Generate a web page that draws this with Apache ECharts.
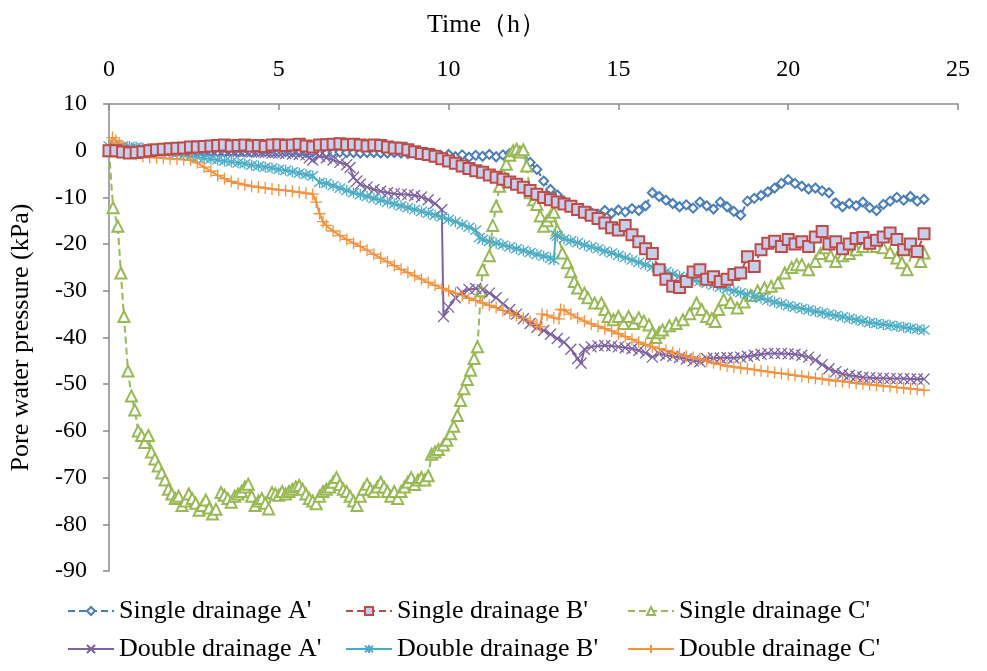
<!DOCTYPE html>
<html>
<head>
<meta charset="utf-8">
<script src="https://cdn.jsdelivr.net/npm/echarts@6/dist/echarts.min.js"></script>
<style>
html,body{margin:0;padding:0;background:#fff;}
#chart{width:987px;height:671px;}
</style>
</head>
<body>
<div id="chart"></div>
<script>
// ---- data: [time (h), pore water pressure (kPa)] ----
var seriesNames = ["Single drainage A'", "Single drainage B'", "Single drainage C'",
                   "Double drainage A'", "Double drainage B'", "Double drainage C'"];

var singleA = [[0,0],[0.2,0.1],[0.4,0.2],[0.6,0.1],[0.8,0],[1,0],[1.2,-0.1],[1.4,0],[1.6,0],[1.8,-0.1],[2,-0.1],[2.2,0],[2.4,-0.1],[2.6,-0.2],[2.8,-0.1],[3,-0.1],[3.2,-0.2],[3.4,-0.2],[3.6,-0.1],[3.8,-0.2],[4,-0.2],[4.2,-0.3],[4.4,-0.2],[4.6,-0.2],[4.8,-0.3],[5,-0.3],[5.2,-0.2],[5.4,-0.3],[5.6,-0.3],[5.8,-0.4],[6,-0.3],[6.2,-0.3],[6.4,-0.4],[6.6,-0.4],[6.8,-0.3],[7,-0.4],[7.2,-0.4],[7.4,-0.5],[7.6,-0.4],[7.8,-0.4],[8,-0.5],[8.2,-0.5],[8.4,-0.4],[8.6,-0.5],[8.8,-0.6],[9,-0.5],[9.2,-0.6],[9.4,-0.6],[9.6,-0.8],[9.8,-1.2],[10,-0.8],[10.2,-1.3],[10.4,-0.9],[10.6,-1.4],[10.8,-1],[11,-1.2],[11.2,-0.8],[11.4,-1.3],[11.6,-0.9],[11.8,-0.6],[12,-0.3],[12.2,-0.5],[12.4,-2.5],[12.6,-4],[12.8,-6.5],[13,-8.3],[13.2,-9.5],[13.4,-10.8],[13.6,-11.8],[13.8,-12.6],[14,-13.5],[14.2,-13.2],[14.4,-13.6],[14.6,-12.8],[14.8,-13.4],[15,-12.7],[15.2,-13.1],[15.4,-12.4],[15.6,-12.8],[15.8,-11.8],[16,-9],[16.2,-9.8],[16.4,-10.6],[16.6,-11.3],[16.8,-12],[17,-11.6],[17.2,-12.3],[17.4,-11],[17.6,-11.8],[17.8,-12.5],[18,-11],[18.2,-12],[18.4,-13],[18.6,-13.8],[18.8,-10.8],[19,-10.2],[19.2,-9.6],[19.4,-8.8],[19.6,-8],[19.8,-7],[20,-6.2],[20.2,-7],[20.4,-7.6],[20.6,-8.2],[20.8,-8],[21,-8.6],[21.2,-9],[21.4,-11.2],[21.6,-12],[21.8,-11.3],[22,-11.8],[22.2,-11],[22.4,-12.2],[22.6,-12.8],[22.8,-11.5],[23,-10.8],[23.2,-10],[23.4,-10.6],[23.6,-9.8],[23.8,-10.8],[24,-10.4]];

var singleB = [[0,0],[0.2,0],[0.4,-0.3],[0.6,-0.5],[0.8,-0.4],[1,-0.2],[1.2,0],[1.4,0.2],[1.6,0.3],[1.8,0.4],[2,0.5],[2.2,0.6],[2.4,0.8],[2.6,0.8],[2.8,0.9],[3,1],[3.2,1.1],[3.4,1.2],[3.6,1],[3.8,1.1],[4,1.2],[4.2,1],[4.4,1.1],[4.6,0.9],[4.8,1.2],[5,1.3],[5.2,1.1],[5.4,1.2],[5.6,1.4],[5.8,1],[6,0.8],[6.2,1.2],[6.4,1.3],[6.6,1.4],[6.8,1.5],[7,1.3],[7.2,1.4],[7.4,1.2],[7.6,1],[7.8,1.2],[8,1.1],[8.2,0.8],[8.4,0.6],[8.6,0.5],[8.8,0.2],[9,-0.2],[9.2,-0.6],[9.4,-0.8],[9.6,-1.2],[9.8,-1.7],[10,-2.2],[10.2,-2.7],[10.4,-3.3],[10.6,-3.8],[10.8,-4.3],[11,-4.6],[11.2,-5.2],[11.4,-5.7],[11.6,-6.1],[11.8,-6.7],[12,-7.2],[12.2,-7.8],[12.4,-8.5],[12.6,-9.3],[12.8,-10],[13,-10.5],[13.2,-11],[13.4,-11.4],[13.6,-11.9],[13.8,-12.6],[14,-13.2],[14.2,-13.8],[14.4,-14.5],[14.6,-15.5],[14.8,-16.5],[15,-17],[15.2,-16],[15.4,-18],[15.6,-19.5],[15.8,-21],[16,-22],[16.2,-25.5],[16.4,-27.5],[16.6,-29],[16.8,-29.3],[17,-28],[17.2,-26],[17.4,-25.5],[17.6,-27.5],[17.8,-27],[18,-28],[18.2,-27.5],[18.4,-26.5],[18.6,-26.2],[18.8,-22.7],[19,-24.8],[19.2,-21.2],[19.4,-19.8],[19.6,-19.4],[19.8,-20.5],[20,-19],[20.2,-20],[20.4,-19.5],[20.6,-20.5],[20.8,-18.5],[21,-17.3],[21.2,-20],[21.4,-19.5],[21.6,-21],[21.8,-20],[22,-18.8],[22.2,-18.6],[22.4,-19.8],[22.6,-19.2],[22.8,-18.5],[23,-17.6],[23.2,-19],[23.4,-21.2],[23.6,-20],[23.8,-21.6],[24,-17.8]];

var singleC = [[0,0],[0.12,-12.2],[0.26,-16.2],[0.35,-26.2],[0.44,-35.5],[0.56,-47.2],[0.66,-52.5],[0.76,-55.5],[0.86,-60],[0.96,-61],[1.05,-62.5],[1.16,-61],[1.25,-64.5],[1.35,-66],[1.45,-67.5],[1.55,-69],[1.65,-70.5],[1.75,-72.5],[1.85,-73.5],[1.95,-74.5],[2.05,-74],[2.15,-76],[2.25,-75],[2.35,-73.5],[2.45,-74.5],[2.55,-75.5],[2.65,-77],[2.75,-76],[2.85,-74.8],[2.95,-76.5],[3.05,-77.8],[3.15,-76.8],[3.3,-73.2],[3.4,-73.8],[3.5,-74.5],[3.6,-75.3],[3.7,-74],[3.8,-73.5],[3.9,-73],[4,-72],[4.1,-71.4],[4.2,-74],[4.3,-76],[4.4,-75],[4.5,-74.5],[4.6,-75.5],[4.7,-76.7],[4.8,-73.2],[4.9,-73.5],[5,-73.8],[5.1,-73],[5.2,-73.5],[5.3,-73],[5.4,-72.5],[5.5,-72],[5.6,-71.7],[5.7,-72.5],[5.8,-73.5],[5.9,-74.5],[6,-75],[6.1,-75.6],[6.2,-74],[6.3,-73],[6.4,-72.5],[6.5,-72],[6.6,-71],[6.7,-70],[6.8,-71.5],[6.9,-72.5],[7,-73],[7.1,-74],[7.2,-75],[7.3,-76],[7.4,-74],[7.5,-72.5],[7.6,-71.4],[7.7,-72.5],[7.8,-73],[7.9,-72],[8,-71],[8.1,-72],[8.2,-73],[8.3,-74],[8.4,-73],[8.5,-74.5],[8.6,-73],[8.7,-72],[8.8,-71],[8.9,-70],[9,-71.5],[9.1,-70.5],[9.2,-70],[9.3,-70.5],[9.4,-69.6],[9.5,-65],[9.6,-64.5],[9.7,-64],[9.85,-63],[9.95,-62],[10.06,-60.6],[10.15,-59],[10.26,-56.7],[10.35,-53.5],[10.45,-51],[10.55,-49],[10.65,-47],[10.75,-44.5],[10.85,-42],[10.95,-30],[11,-25.5],[11.2,-22.5],[11.3,-16],[11.4,-11.9],[11.5,-7.6],[11.6,-5],[11.7,-2.9],[11.8,-1],[11.9,0],[12,0.3],[12.1,-0.3],[12.2,0.2],[12.3,-3.3],[12.4,-9],[12.5,-10.5],[12.6,-11.5],[12.7,-14],[12.8,-16.2],[12.9,-15],[13,-14],[13.1,-13.2],[13.2,-17],[13.35,-21.9],[13.5,-24],[13.6,-25.9],[13.7,-28],[13.8,-29.4],[14,-30.5],[14.1,-31.5],[14.3,-32.6],[14.5,-32.6],[14.6,-34],[14.7,-35.5],[14.85,-36.2],[15,-35.5],[15.15,-37],[15.3,-35.5],[15.45,-37],[15.6,-35.8],[15.75,-36.5],[15.9,-37.3],[16,-39],[16.1,-40],[16.2,-39],[16.3,-38.4],[16.5,-37.5],[16.7,-37],[16.9,-36.2],[17.1,-34.9],[17.3,-32.6],[17.45,-34],[17.6,-35.5],[17.75,-36],[17.85,-36.6],[17.95,-34],[18.1,-31.9],[18.3,-32.5],[18.5,-33.7],[18.7,-32.4],[18.9,-31],[19.1,-30],[19.3,-29.4],[19.5,-29],[19.7,-28.3],[19.9,-26.2],[20.1,-25],[20.25,-24.4],[20.4,-24.4],[20.6,-25.5],[20.8,-23.7],[20.95,-22],[21.1,-20.8],[21.25,-22.5],[21.4,-23.7],[21.6,-22.5],[21.8,-22],[22,-21.2],[22.2,-20.5],[22.4,-19.8],[22.6,-20.5],[22.8,-20.8],[23,-21.8],[23.2,-23],[23.35,-24],[23.5,-25.5],[23.7,-20.5],[23.9,-23.7],[24,-21.9]];

var doubleA = [[0,0],[0.2,0.5],[0.4,0.3],[0.6,0.2],[0.8,0.1],[1,0.1],[1.2,0],[1.4,0],[1.6,0],[1.8,-0.1],[2,0],[2.2,0],[2.4,0],[2.6,0.1],[2.8,0],[3,0],[3.2,0],[3.4,-0.1],[3.6,-0.1],[3.8,-0.2],[4,-0.2],[4.2,-0.3],[4.4,-0.3],[4.6,-0.4],[4.8,-0.5],[5,-0.5],[5.2,-0.6],[5.4,-0.7],[5.6,-0.8],[5.8,-0.9],[5.9,-1.5],[6,-2],[6.2,-1.2],[6.4,-1.5],[6.6,-2],[6.8,-2.5],[7,-3],[7.1,-3.6],[7.2,-5.7],[7.3,-6.5],[7.4,-7.2],[7.6,-7.8],[7.8,-8.3],[8,-8.7],[8.2,-9],[8.4,-9.2],[8.6,-9.3],[8.8,-9.4],[9,-9.6],[9.2,-9.9],[9.4,-10.5],[9.6,-11.3],[9.8,-12.6],[9.85,-35.5],[10,-33.5],[10.2,-31.5],[10.4,-30.3],[10.6,-29.7],[10.8,-29.5],[11,-29.8],[11.2,-30.5],[11.4,-31.5],[11.6,-32.8],[11.8,-34],[12,-35],[12.2,-36],[12.4,-37],[12.6,-37.8],[12.8,-38.5],[13,-39.3],[13.2,-40.2],[13.4,-41],[13.6,-42.5],[13.8,-44.5],[13.9,-45.5],[14,-42.5],[14.2,-42],[14.4,-41.8],[14.6,-41.7],[14.8,-41.8],[15,-42],[15.2,-42.2],[15.4,-42.4],[15.6,-42.8],[15.8,-43.3],[16,-44.2],[16.2,-43.5],[16.4,-43.8],[16.6,-44],[16.8,-44.3],[17,-44.6],[17.2,-45],[17.4,-45.2],[17.6,-44.5],[17.8,-44.4],[18,-44.4],[18.2,-44.3],[18.4,-44.4],[18.6,-44.2],[18.8,-44],[19,-43.8],[19.2,-43.6],[19.4,-43.4],[19.6,-43.4],[19.8,-43.4],[20,-43.5],[20.2,-43.6],[20.4,-43.8],[20.6,-44.2],[20.8,-44.8],[21,-45.8],[21.2,-46.7],[21.4,-47.3],[21.6,-47.8],[21.8,-48.1],[22,-48.3],[22.2,-48.5],[22.4,-48.6],[22.6,-48.7],[22.8,-48.7],[23,-48.8],[23.2,-48.8],[23.4,-48.8],[23.6,-48.9],[23.8,-48.9],[24,-48.9]];

var doubleB = [[0,1],[0.2,1.2],[0.4,1],[0.6,0.9],[0.8,0.8],[1,0.6],[1.2,0.4],[1.4,0.2],[1.6,0],[1.8,-0.3],[2,-0.6],[2.2,-0.9],[2.4,-1.2],[2.6,-1.4],[2.8,-1.6],[3,-1.8],[3.2,-2],[3.4,-2.2],[3.6,-2.4],[3.8,-2.6],[4,-2.8],[4.2,-3.1],[4.4,-3.3],[4.6,-3.5],[4.8,-3.7],[5,-4],[5.2,-4.2],[5.4,-4.5],[5.6,-4.8],[5.8,-5.1],[6,-5.4],[6.2,-6.8],[6.4,-7],[6.6,-7.5],[6.8,-8],[7,-8.5],[7.2,-9],[7.4,-9.4],[7.6,-9.8],[7.8,-10.2],[8,-10.6],[8.2,-11],[8.4,-11.4],[8.6,-11.8],[8.8,-12.2],[9,-12.6],[9.2,-13],[9.4,-13.4],[9.6,-13.8],[9.8,-14.2],[10,-14.7],[10.2,-15.2],[10.4,-15.8],[10.6,-16.4],[10.8,-17],[10.9,-18.6],[11,-19],[11.2,-19.4],[11.4,-19.8],[11.6,-20.2],[11.8,-20.6],[12,-21],[12.2,-21.4],[12.4,-21.8],[12.6,-22.2],[12.8,-22.6],[13,-23],[13.1,-23.4],[13.15,-18],[13.2,-18.3],[13.4,-18.9],[13.6,-19.3],[13.8,-19.7],[14,-20.2],[14.2,-20.6],[14.4,-21],[14.6,-21.5],[14.8,-21.9],[15,-22.4],[15.2,-22.9],[15.4,-23.4],[15.6,-23.9],[15.8,-24.4],[16,-24.9],[16.2,-25.4],[16.4,-25.9],[16.6,-26.4],[16.8,-26.9],[17,-27.3],[17.2,-27.7],[17.4,-28],[17.6,-28.4],[17.8,-28.8],[18,-29.2],[18.2,-29.6],[18.4,-30],[18.6,-30.4],[18.8,-30.8],[19,-31.2],[19.2,-31.6],[19.4,-32],[19.6,-32.4],[19.8,-32.8],[20,-33.2],[20.2,-33.5],[20.4,-33.8],[20.6,-34.1],[20.8,-34.4],[21,-34.7],[21.2,-35],[21.4,-35.3],[21.6,-35.6],[21.8,-35.9],[22,-36.2],[22.2,-36.5],[22.4,-36.8],[22.6,-37],[22.8,-37.2],[23,-37.4],[23.2,-37.6],[23.4,-37.8],[23.6,-38],[23.8,-38.2],[24,-38.4]];

var doubleC = [[0,1],[0.1,2.8],[0.2,2.2],[0.3,1.6],[0.4,1],[0.6,0],[0.8,-0.8],[1,-1.2],[1.2,-1.4],[1.4,-1.5],[1.6,-1.6],[1.8,-1.7],[2,-1.8],[2.2,-1.9],[2.4,-2],[2.6,-2.6],[2.8,-3.5],[3,-4.4],[3.2,-5.3],[3.4,-6],[3.6,-6.6],[3.8,-7],[4,-7.3],[4.2,-7.6],[4.4,-7.8],[4.6,-8],[4.8,-8.2],[5,-8.4],[5.2,-8.5],[5.4,-8.7],[5.6,-8.9],[5.8,-9.1],[6,-9.3],[6.1,-11],[6.2,-13.5],[6.3,-15.2],[6.4,-16],[6.6,-17.2],[6.8,-18.2],[7,-19],[7.2,-19.8],[7.4,-20.5],[7.6,-21.3],[7.8,-22.2],[8,-23],[8.2,-23.8],[8.4,-24.6],[8.6,-25.4],[8.8,-26.1],[9,-26.8],[9.2,-27.5],[9.4,-28.2],[9.6,-28.8],[9.8,-29.5],[10,-30],[10.2,-30.5],[10.4,-31],[10.6,-31.6],[10.8,-32.1],[11,-32.6],[11.2,-33.1],[11.4,-33.6],[11.6,-34.2],[11.8,-34.8],[12,-35.3],[12.2,-35.9],[12.4,-36.5],[12.6,-37.2],[12.7,-37.7],[12.75,-35],[12.9,-35.2],[13.1,-35.8],[13.25,-36],[13.3,-34],[13.4,-34.2],[13.6,-35],[13.8,-35.8],[14,-36.5],[14.2,-37.1],[14.4,-37.6],[14.6,-38.1],[14.8,-38.6],[15,-39.2],[15.2,-39.8],[15.4,-40.4],[15.6,-41],[15.8,-41.5],[16,-42],[16.2,-42.4],[16.4,-42.8],[16.6,-43.2],[16.8,-43.6],[17,-44],[17.2,-44.3],[17.4,-44.6],[17.6,-45],[17.8,-45.4],[18,-45.8],[18.2,-46.1],[18.4,-46.3],[18.6,-46.5],[18.8,-46.7],[19,-46.9],[19.2,-47.1],[19.4,-47.3],[19.6,-47.5],[19.8,-47.7],[20,-47.9],[20.2,-48.1],[20.4,-48.3],[20.6,-48.5],[20.8,-48.7],[21,-48.9],[21.2,-49.1],[21.4,-49.3],[21.6,-49.4],[21.8,-49.6],[22,-49.8],[22.2,-49.9],[22.4,-50.1],[22.6,-50.2],[22.8,-50.4],[23,-50.5],[23.2,-50.7],[23.4,-50.8],[23.6,-51],[23.8,-51.1],[24,-51.3]];

var xTicks = {min: 0, max: 25, interval: 5};
var yTicks = {min: -90, max: 10, interval: 10};

// ---- styling ----
var FONT = '"Liberation Serif", "Times New Roman", serif';
var colors = ['#4a7ebb', '#be4b48', '#98b954', '#7e62a1', '#4aacc5', '#f59240'];
var CROSS = 'path://M0,0L10,10M10,0L0,10';
var STAR = 'path://M0,0L10,10M10,0L0,10M5,-1L5,11';
var PLUS = 'path://M5,0L5,10M0,5L10,5';

function mk(name, data, color, symbol, size, dashed, extraItem, z) {
  return {
    name: name, type: 'line', data: data, z: z,
    symbol: symbol, symbolSize: size, showSymbol: true,
    lineStyle: {color: color, width: 2, type: dashed ? [7, 4] : 'solid'},
    itemStyle: Object.assign({color: color, borderColor: color, borderWidth: 1.3}, extraItem || {}),
    emphasis: {disabled: true}
  };
}

var chart = echarts.init(document.getElementById('chart'), null, {renderer: 'canvas'});
chart.setOption({
  animation: false,
  backgroundColor: '#ffffff',
  textStyle: {fontFamily: FONT, color: '#000'},
  title: {
    text: 'Time（h）', left: 422, top: 7,
    textStyle: {fontFamily: FONT, fontSize: 26, fontWeight: 'normal', color: '#000'}
  },
  grid: {left: 109, right: 29, top: 104, bottom: 100, containLabel: false},
  xAxis: {
    type: 'value', position: 'top', min: xTicks.min, max: xTicks.max, interval: xTicks.interval,
    axisLine: {show: true, onZero: false, lineStyle: {color: '#8a8a8a', width: 1.5}},
    axisTick: {show: true, inside: true, length: 6, lineStyle: {color: '#8a8a8a', width: 1.5}},
    axisLabel: {fontFamily: FONT, fontSize: 24, color: '#000', margin: 22},
    splitLine: {show: false}
  },
  yAxis: {
    type: 'value', min: yTicks.min, max: yTicks.max, interval: yTicks.interval,
    name: 'Pore water pressure (kPa)', nameLocation: 'middle', nameGap: 75, nameRotate: 90,
    nameTextStyle: {fontFamily: FONT, fontSize: 26, color: '#000'},
    axisLine: {show: true, onZero: false, lineStyle: {color: '#8a8a8a', width: 1.5}},
    axisTick: {show: true, inside: false, length: 6, lineStyle: {color: '#8a8a8a', width: 1.5}},
    axisLabel: {fontFamily: FONT, fontSize: 24, color: '#000', margin: 22},
    splitLine: {show: false}
  },
  legend: [0, 1, 2].map(function (i) {
    return {
      orient: 'vertical', left: [62, 340, 622][i], top: 592,
      data: [seriesNames[i], seriesNames[i + 3]],
      itemWidth: 46, itemHeight: 10, itemGap: 10,
      textStyle: {fontFamily: FONT, fontSize: 26, color: '#000', lineHeight: 28},
      selectedMode: false
    };
  }),
  series: [
    mk(seriesNames[0], singleA, colors[0], 'emptyDiamond', 9, true, {borderWidth: 1.2}, 2),
    mk(seriesNames[1], singleB, colors[1], 'rect', 11, true, {color: '#c6cee9', borderColor: colors[1], borderWidth: 2}, 3),
    mk(seriesNames[2], singleC, colors[2], 'emptyTriangle', 11, true, {borderWidth: 1.5}, 2),
    mk(seriesNames[3], doubleA, colors[3], CROSS, 11, false, {}, 2),
    mk(seriesNames[4], doubleB, colors[4], STAR, 11, false, {}, 2),
    mk(seriesNames[5], doubleC, colors[5], PLUS, 12, false, {}, 2)
  ]
});
</script>
</body>
</html>
